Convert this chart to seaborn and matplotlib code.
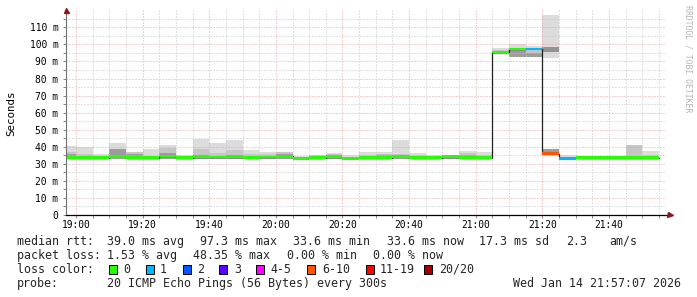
import numpy as np
import pandas as pd
import matplotlib
matplotlib.use("Agg")
import matplotlib.pyplot as plt
from matplotlib.patches import Rectangle
import seaborn as sns

# ---------------- data ----------------
# 5-minute bins, first bin is partial (18:57:07 - 19:00); x in minutes after 19:00
median_ms = [33.6, 33.6, 33.6, 34.3, 33.6, 33.6, 34.6, 33.6, 34.2, 34.0, 34.2, 33.8,
             34.0, 34.5, 33.3, 33.6, 34.2, 33.3, 33.6, 33.6, 34.3, 33.6, 33.6, 34.2,
             33.6, 33.6, 95.5, 97.3, 97.3, 36.0, 33.3, 33.6, 33.6, 33.6, 33.6, 33.6]
loss_class = [0, 0, 0, 0, 0, 0, 0, 0, 0, 0, 0, 0,
              0, 0, 0, 0, 0, 0, 0, 0, 0, 0, 0, 0,
              0, 0, 0, 0, 1, 5, 1, 0, 0, 0, 0, 0]
smoke_min = [33.0, 33.0, 33.0, 33.0, 33.0, 33.0, 33.0, 33.0, 33.0, 33.0, 33.0, 33.0,
             33.0, 33.0, 33.0, 33.0, 33.0, 33.0, 33.0, 33.0, 33.0, 33.0, 33.0, 33.0,
             33.0, 33.0, 94.2, 92.8, 92.4, 35.2, 33.0, 33.0, 33.0, 33.0, 33.0, 33.0]
smoke_core = [36.0, 33.6, 33.6, 38.7, 35.9, 33.6, 36.1, 33.6, 34.5, 34.5, 35.0, 33.6,
              33.6, 35.8, 33.3, 34.8, 33.6, 33.3, 33.6, 35.2, 33.6, 33.6, 33.6, 34.2,
              35.0, 33.6, 95.5, 96.7, 94.8, 38.7, 33.3, 33.6, 33.6, 33.6, 33.6, 33.6]
smoke_mid = [37.0, 35.6, 34.5, 38.7, 36.9, 34.5, 39.1, 34.5, 38.5, 36.1, 38.0, 35.8,
             35.5, 36.9, 33.3, 35.3, 35.5, 33.3, 35.0, 36.0, 35.5, 35.0, 34.5, 34.2,
             36.5, 35.0, 96.5, 96.7, 96.1, 38.7, 34.0, 33.6, 33.6, 33.6, 41.0, 35.0]
smoke_max = [40.4, 40.0, 35.6, 42.4, 36.9, 38.9, 40.8, 35.3, 44.7, 42.4, 44.0, 38.1,
             36.7, 36.9, 34.3, 35.3, 36.5, 35.2, 36.9, 36.9, 44.0, 36.3, 35.2, 34.8,
             37.5, 36.9, 98.0, 100.0, 99.2, 38.7, 35.3, 34.3, 34.3, 34.3, 41.0, 37.5]
# separate high cluster of pings in the 21:20 bin
outlier_bin = 29
outlier_range = [92.2, 117.2]
outlier_core = [95.4, 98.6]

loss_labels = ["0", "1", "2", "3", "4-5", "6-10", "11-19", "20/20"]
loss_colors = ["#26ff00", "#00b8ff", "#0059ff", "#5e00ff", "#ff00ff", "#ff5500", "#ff0000", "#a00000"]

y_ticks = [0, 10, 20, 30, 40, 50, 60, 70, 80, 90, 100, 110]
y_tick_labels = ["0", "10 m", "20 m", "30 m", "40 m", "50 m", "60 m", "70 m", "80 m", "90 m", "100 m", "110 m"]
x_ticks = [0, 20, 40, 60, 80, 100, 120, 140, 160]
x_tick_labels = ["19:00", "19:20", "19:40", "20:00", "20:20", "20:40", "21:00", "21:20", "21:40"]

stats_rtt = ["median rtt:", "39.0 ms avg", "97.3 ms max", "33.6 ms min", "33.6 ms now", "17.3 ms sd", "2.3", "am/s"]
stats_loss = ["packet loss:", "1.53 % avg", "48.35 % max", "0.00 % min", "0.00 % now"]
probe_text = ["probe:", "20 ICMP Echo Pings (56 Bytes) every 300s", "Wed Jan 14 21:57:07 2026"]
watermark = "RRDTOOL / TOBI OETIKER"

# ---------------- layout ----------------
sns.set_theme(style="white")
MONO = ["DejaVu Sans Mono", "DejaVu Sans"]
plt.rcParams["font.family"] = MONO

W, H = 697, 297
fig = plt.figure(figsize=(W / 100, H / 100), dpi=100, facecolor="white")

def P(x, y):
    return (x / W, 1 - y / H)

x0, x1 = -2.883, 177.117
ax = fig.add_axes([66.4 / W, 1 - 215 / H, 599.6 / W, 204.7 / H])
ax.set_facecolor("white")
ax.set_xlim(x0, x1)
ax.set_ylim(0, 120)

n = len(median_ms)
edges = np.array([x0] + [5.0 * k for k in range(n)])
widths = np.diff(edges)

def ext(a):
    a = list(a)
    return np.array(a + [a[-1]])

# smoke layers
ax.fill_between(edges, ext(smoke_min), ext(smoke_max), step="post", color="#dcdcdc", lw=0, zorder=1)
ax.fill_between(edges, ext(smoke_min), ext(smoke_mid), step="post", color="#c6c6c6", lw=0, zorder=1.1)
ax.fill_between(edges, ext(smoke_min), ext(smoke_core), step="post", color="#9c9c9c", lw=0, zorder=1.2)
ob = outlier_bin
ax.fill_between([edges[ob], edges[ob + 1]], outlier_range[0], outlier_range[1], color="#dcdcdc", lw=0, zorder=1)
ax.fill_between([edges[ob], edges[ob + 1]], outlier_core[0], outlier_core[1], color="#939393", lw=0, zorder=1.2)

# median step line (black)
df = pd.DataFrame({"t": edges, "rtt": ext(median_ms)})
sns.lineplot(data=df, x="t", y="rtt", drawstyle="steps-post", color="#202020",
             lw=0.9, ax=ax, legend=False, zorder=3)

# loss-coloured median bars
ax.bar(edges[:-1], 1.6, bottom=np.array(median_ms) - 0.8, width=widths, align="edge",
       color=[loss_colors[c] for c in loss_class], linewidth=0, zorder=4)

# grid
ax.set_yticks(y_ticks)
ax.set_yticklabels(y_tick_labels)
ax.set_yticks(np.arange(5, 120, 10), minor=True)
ax.set_xticks(x_ticks)
ax.set_xticklabels(x_tick_labels)
ax.set_xticks(np.arange(-0.0, 177, 5), minor=True)
ax.set_axisbelow(False)
dot = (0, (1, 2))
ax.grid(which="major", color="#eaa0a0", linestyle=dot, linewidth=0.72, zorder=2)
ax.grid(which="minor", color="#c4c4c4", linestyle=dot, linewidth=0.72, zorder=2)
for gl in ax.get_xgridlines() + ax.get_ygridlines():
    gl.set_zorder(2)

ax.tick_params(axis="both", which="both", length=2, width=0.7, color="#888888",
               labelsize=6.9, labelcolor="#000000")
ax.tick_params(axis="y", which="both", left=True, pad=3.7)
ax.tick_params(axis="x", which="both", bottom=True, pad=1.8)
ax.set_xlabel("")
ax.set_ylabel("")

for s in ["top", "right"]:
    ax.spines[s].set_visible(False)
ax.spines["left"].set_color("#707070")
ax.spines["left"].set_linewidth(0.8)
ax.spines["bottom"].set_color("#000000")
ax.spines["bottom"].set_linewidth(0.9)
ax.spines["bottom"].set_bounds(x0, x1 + 1.3)
ax.spines["left"].set_zorder(5)
ax.spines["bottom"].set_zorder(5)

# arrows
ax.plot([0], [1.0], marker="^", markersize=3.6, color="#8b1a1a", transform=ax.transAxes,
        clip_on=False, zorder=6)
ax.plot([1.0067], [0], marker=">", markersize=3.6, color="#8b1a1a", transform=ax.transAxes,
        clip_on=False, zorder=6)

# axis title and watermark
fig.text(*P(11, 113.5), "Seconds", rotation=90, ha="center", va="center", fontsize=7.8,
         family=MONO, color="#000000")
fig.text(*P(688, 59), watermark, rotation=270, ha="center", va="center", fontsize=5.9,
         family=MONO, color="#b4b4b4")

# legend / stats text
FS = 8.35
rtt_x = [16.7, 107.3, 200.0, 293.3, 386.7, 479.3, 566.0, 608.8]
for s, x in zip(stats_rtt, rtt_x):
    fig.text(*P(x, 244.7), s, ha="left", va="baseline", fontsize=FS, family=MONO)
loss_x = [16.7, 107.3, 193.3, 286.7, 372.7]
for s, x in zip(stats_loss, loss_x):
    fig.text(*P(x, 258.7), s, ha="left", va="baseline", fontsize=FS, family=MONO)

fig.text(*P(16.7, 272.7), "loss color:", ha="left", va="baseline", fontsize=FS, family=MONO)
box_x = [108.7, 145.7, 182.7, 219.3, 256.0, 307.3, 365.7, 424.0]
lab_x = [123.3, 160.0, 196.7, 234.0, 270.7, 322.0, 380.0, 438.7]
for lab, col, bx, lx in zip(loss_labels, loss_colors, box_x, lab_x):
    fig.patches.append(Rectangle(P(bx, 274.0), 8.0 / W, 9.0 / H, transform=fig.transFigure,
                                 facecolor=col, edgecolor="#000000", linewidth=0.7))
    fig.text(*P(lx, 272.7), lab, ha="left", va="baseline", fontsize=FS, family=MONO)

fig.text(*P(16.7, 286.7), probe_text[0], ha="left", va="baseline", fontsize=FS, family=MONO)
fig.text(*P(107.3, 286.7), probe_text[1], ha="left", va="baseline", fontsize=FS, family=MONO)
fig.text(*P(681.0, 286.7), probe_text[2], ha="right", va="baseline", fontsize=FS, family=MONO)

fig.savefig("out.png", dpi=100, facecolor="white")
